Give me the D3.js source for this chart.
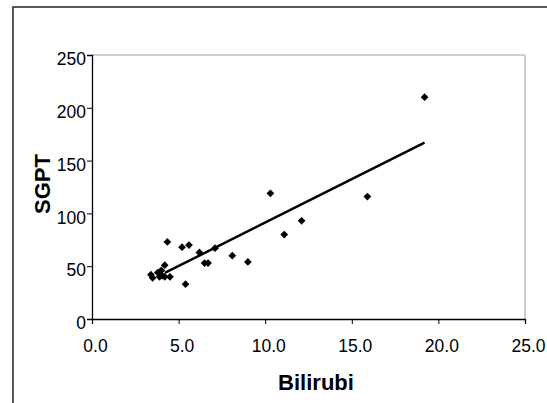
<html>
<head>
  <script src="https://cdn.jsdelivr.net/npm/d3@7"></script>
  <style>
    body { margin:0; background:#fff; }
    text { font-family: "Liberation Sans", Arial, sans-serif; }
  </style>
</head>
<body>
<div id="chart"></div>
<script>
// bilirubin vs SGPT readings
var bilirubin = [3.4, 3.5, 3.8, 3.9, 4.0, 4.05, 4.2, 4.2, 4.5, 4.35, 5.2, 5.6, 5.4,
                 6.2, 6.5, 6.7, 7.1, 8.1, 9.0, 10.3, 11.1, 12.1, 15.9, 19.2]
var sgpt      = [42, 39, 44, 40, 46, 41, 40, 51, 40, 73, 68, 70, 33,
                 63, 53, 53, 67, 60, 54, 119, 80, 93, 116, 210]
// fitted line, as drawn
var trendX = [4.2, 19.2]
var trendY = [43.6, 167]

var xTicks = [0, 5, 10, 15, 20, 25]
var yTicks = [0, 50, 100, 150, 200, 250]

var W = 547, H = 403
var svg = d3.select("#chart").append("svg").attr("width", W).attr("height", H)

// chart border (runs off the page on right/bottom)
svg.append("rect").attr("x", 13).attr("y", 7).attr("width", 600).attr("height", 500)
   .style("fill", "none").style("stroke", "#222").style("stroke-width", 1.5)

var x = d3.scaleLinear().domain([0, 25]).range([92, 525])
var y = d3.scaleLinear().domain([0, 250]).range([319, 55])

// plot area frame
svg.append("path")
   .attr("d", "M" + x(0) + "," + y(250) + "H" + x(25) + "V" + y(0))
   .style("fill", "none").style("stroke", "#a0a0a0").style("stroke-width", 1)

var xa = svg.append("g").attr("transform", "translate(0," + y(0) + ")")
  .call(d3.axisBottom(x).tickValues(xTicks).tickFormat(d3.format(".1f")).tickSize(5).tickPadding(16))
var ya = svg.append("g").attr("transform", "translate(" + x(0) + ",0)")
  .call(d3.axisLeft(y).tickValues(yTicks).tickSize(5).tickPadding(1))
;[xa, ya].forEach(function(a) {
  a.select(".domain").style("stroke", "#000").style("stroke-width", 1.3)
  a.selectAll(".tick line").style("stroke", "#000")
  a.selectAll("text").style("font-size", "17.5px").style("fill", "#000")
    .style("font-family", "'Liberation Sans', Arial, sans-serif")
})
xa.selectAll(".tick text").attr("dx", 3)
ya.selectAll(".tick text").attr("dy", "0.55em")

// trend line
svg.append("line")
   .attr("x1", x(trendX[0])).attr("y1", y(trendY[0]))
   .attr("x2", x(trendX[1])).attr("y2", y(trendY[1]))
   .style("stroke", "#000").style("stroke-width", 2.5)

// diamonds
var pts = bilirubin.map(function(b, i) { return [b, sgpt[i]] })
svg.selectAll(".pt").data(pts).enter().append("path")
   .attr("class", "pt")
   .attr("d", d3.symbol(d3.symbolSquare, 30))
   .attr("transform", function(d) { return "translate(" + x(d[0]) + "," + y(d[1]) + ") rotate(45)" })
   .style("fill", "#000")

svg.append("text").attr("x", 316).attr("y", 390).attr("text-anchor", "middle")
   .style("font-size", "22px").style("font-weight", "bold").text("Bilirubi")
svg.append("text").attr("transform", "translate(50,184) rotate(-90)").attr("text-anchor", "middle")
   .style("font-size", "22px").style("font-weight", "bold").text("SGPT")
</script>
</body>
</html>
